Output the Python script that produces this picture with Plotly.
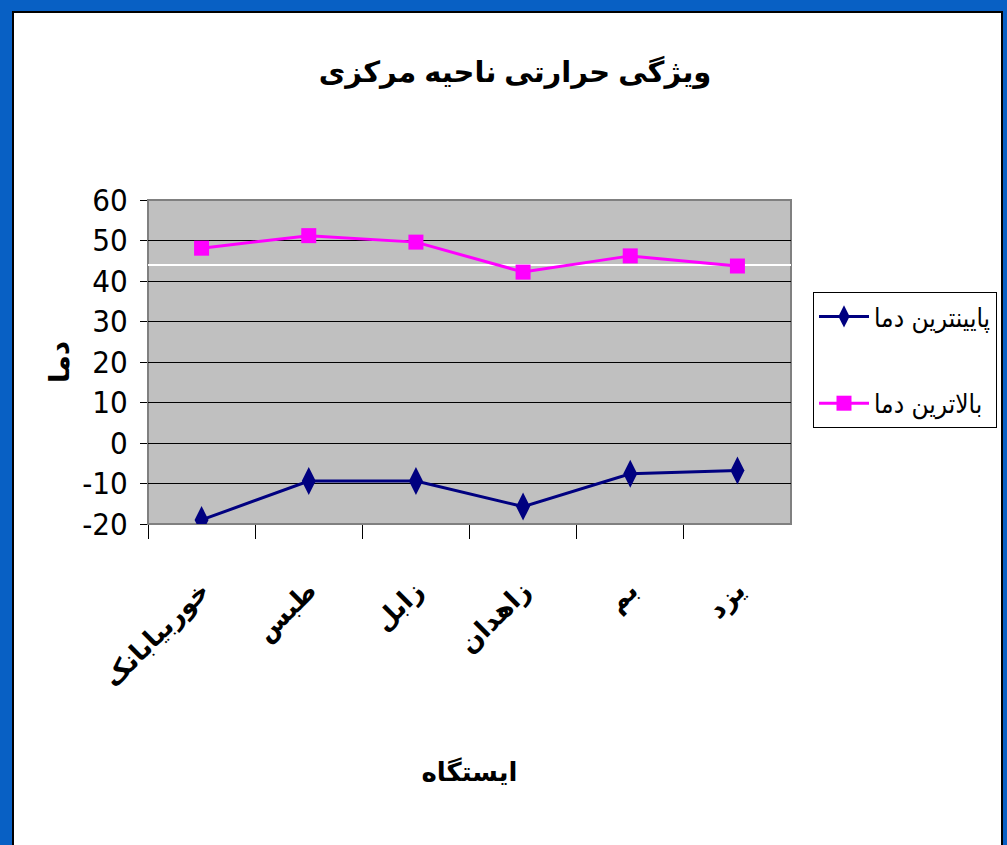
import plotly.graph_objects as go

# Stations of the central region
stations = ["خوربیابانک", "طبس", "زابل", "زاهدان", "بم", "یزد"]
# Lowest and highest recorded temperatures (°C)
min_temp = [-19.0, -9.4, -9.4, -15.7, -7.6, -6.8]
max_temp = [48.1, 51.2, 49.6, 42.2, 46.2, 43.7]

title_text = "ویژگی حرارتی ناحیه مرکزی"
x_title = "ایستگاه"
y_title = "دما"
name_min = "پایینترین دما"
name_max = "بالاترین دما"
y_ticks = [-20, -10, 0, 10, 20, 30, 40, 50, 60]
y_ticklabels = ["-20", "-10", "0", "10", "20", "30", "40", "50", "60"]
ref_level = [44]

W, H = 1007, 845
px = lambda v: v / W
py = lambda v: 1 - v / H

font_main = "Liberation Sans Narrow, Arial Narrow, DejaVu Sans Condensed, Liberation Sans, sans-serif"
font_bold = "Liberation Sans, Arial, DejaVu Sans, sans-serif"

fig = go.Figure()
fig.add_trace(go.Scatter(
    x=stations, y=min_temp, name=name_min, mode="lines+markers", legendgroup="a",
    line=dict(color="#000080", width=3),
    marker=dict(symbol="diamond-tall", size=20, color="#000080"),
))
fig.add_trace(go.Scatter(
    x=stations, y=max_temp, name=name_max, mode="lines+markers", legendgroup="b",
    line=dict(color="#FF00FF", width=3),
    marker=dict(symbol="square", size=15, color="#FF00FF"),
))

fig.update_layout(
    width=W, height=H,
    margin=dict(l=0, r=0, t=0, b=0, autoexpand=False),
    paper_bgcolor="#0860C4",
    plot_bgcolor="#C0C0C0",
    showlegend=True,
    legend=dict(
        x=px(813), y=py(292), xanchor="left", yanchor="top",
        bgcolor="white", bordercolor="black", borderwidth=1,
        font=dict(family=font_main, size=26, color="black"),
        tracegroupgap=50, itemwidth=50,
    ),
    title=dict(
        text=title_text, x=px(515), y=py(72), xanchor="center", yanchor="middle",
        font=dict(family=font_bold, size=29, color="black", weight="bold"),
    ),
    xaxis=dict(
        domain=[px(148), px(791)],
        type="category", automargin=False,
        range=[-0.5, len(stations) - 0.5],
        showgrid=False, zeroline=False,
        showline=True, linecolor="#808080", linewidth=1,
        ticks="outside", tickson="boundaries", ticklen=14, tickcolor="black",
        tickangle=-45,
        ticklabelstandoff=40,
        tickfont=dict(family=font_bold, size=26, color="black", weight="bold"),
        mirror=True,
        title=dict(text=x_title, standoff=70,
                   font=dict(family=font_bold, size=26, color="black", weight="bold")),
    ),
    yaxis=dict(
        domain=[py(524), py(200)],
        range=[-20, 60], automargin=False,
        tickvals=y_ticks, ticktext=y_ticklabels,
        showgrid=True, gridcolor="black", gridwidth=1,
        zeroline=False,
        showline=True, linecolor="#808080", linewidth=1, mirror=True,
        ticks="outside", ticklen=7, tickcolor="black",
        ticklabelstandoff=6,
        tickfont=dict(family=font_main, size=31, color="black"),
        title=dict(text=y_title, standoff=4,
                   font=dict(family=font_bold, size=28, color="black", weight="bold")),
    ),
    # overlay axis that only carries the light reference gridline
    yaxis2=dict(
        overlaying="y", range=[-20, 60], automargin=False,
        tickvals=ref_level, showticklabels=False, ticks="",
        showgrid=True, gridcolor="white", gridwidth=1.5,
        zeroline=False, showline=False,
    ),
)

# White chart area framed on the slide
fig.add_shape(type="rect", xref="paper", yref="paper",
              x0=px(13), x1=px(1002), y0=-0.01, y1=py(12),
              fillcolor="white", line=dict(color="black", width=2), layer="below")
# Grey plot area
fig.add_shape(type="rect", xref="x domain", yref="y domain",
              x0=0, x1=1, y0=0, y1=1,
              fillcolor="#C0C0C0", line=dict(color="#808080", width=2), layer="below")

# invisible trace so the overlay axis is drawn
fig.add_trace(go.Scatter(x=[stations[0]], y=[ref_level[0]], yaxis="y2", mode="markers",
                         marker=dict(opacity=0), showlegend=False, hoverinfo="skip"))

fig.write_html("out.html")
